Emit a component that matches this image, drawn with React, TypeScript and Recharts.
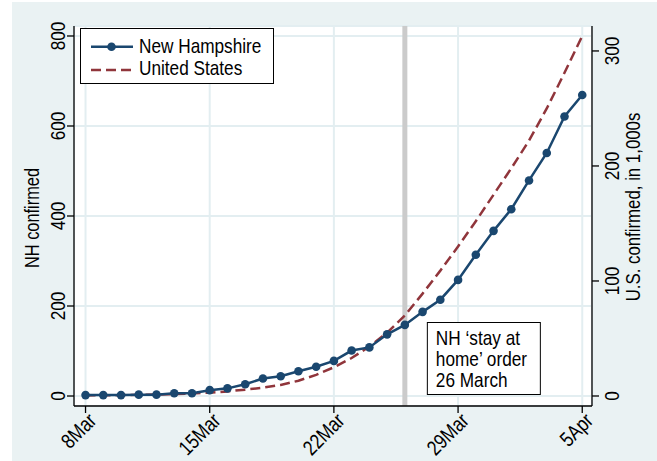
import {
  CartesianGrid,
  Legend,
  Line,
  LineChart,
  ReferenceLine,
  XAxis,
  YAxis,
} from "recharts";

// Arial-metric font squeezed horizontally to mimic a narrow face
const FONT = '"Liberation Sans", Arimo, Arial, sans-serif';
const SQUEEZE = 0.82;
const NAVY = "#1A476F";
const MAROON = "#90353B";

const dates = [
  "8Mar", "9Mar", "10Mar", "11Mar", "12Mar", "13Mar", "14Mar", "15Mar",
  "16Mar", "17Mar", "18Mar", "19Mar", "20Mar", "21Mar", "22Mar", "23Mar",
  "24Mar", "25Mar", "26Mar", "27Mar", "28Mar", "29Mar", "30Mar", "31Mar",
  "1Apr", "2Apr", "3Apr", "4Apr", "5Apr",
];
// NH confirmed cases
const nhCases = [
  2, 2, 2, 3, 3, 6, 6, 13, 17, 26, 39, 44, 55, 65, 78, 101, 108, 137, 158,
  187, 214, 258, 314, 367, 415, 479, 540, 621, 669,
];
// U.S. confirmed, in 1,000s
const usCases = [
  0.5, 0.6, 0.8, 1.0, 1.3, 1.7, 2.2, 2.9, 4.0, 5.5, 7.2, 9.6, 13.3, 18.3, 25,
  33, 43, 55, 70, 89, 109, 130, 152, 175, 198, 222, 250, 281, 313,
];
const xTicks = [0, 7, 14, 21, 28];
const leftTicks = [0, 200, 400, 600, 800];
const rightTicks = [0, 100, 200, 300];
const orderDay = 18;
const orderText = ["NH \u2018stay at", "home\u2019 order", "26 March"];

const rows = dates.map((d, i) => ({ day: i, date: d, nh: nhCases[i], us: usCases[i] }));

function NText({ x, y, angle = 0, anchor = "start", size = 21, children }: any) {
  return (
    <text
      transform={`translate(${x} ${y}) rotate(${angle}) scale(${SQUEEZE} 1)`}
      textAnchor={anchor}
      fontFamily={FONT}
      fontSize={size}
      fill="#000"
    >
      {children}
    </text>
  );
}

function XTick({ x, y, payload }: any) {
  return (
    <NText x={x + 12} y={y + 9} angle={-45} anchor="end">
      {dates[payload.value]}
    </NText>
  );
}

function LeftTick({ x, y, payload }: any) {
  return (
    <NText x={x - 2} y={y} angle={-90} anchor="middle">
      {payload.value}
    </NText>
  );
}

function RightTick({ x, y, payload }: any) {
  return (
    <NText x={x + 20} y={y} angle={-90} anchor="middle">
      {payload.value}
    </NText>
  );
}

function LegendBox({ payload }: any) {
  const items = payload || [];
  return (
    <svg width={194} height={56} style={{ display: "block" }}>
      <rect x={0.5} y={0.5} width={193} height={55} fill="#fff" stroke="#000" />
      {items.map((it: any, i: number) => {
        const cy = 18.7 + i * 23.3;
        const dashed = it.dataKey === "us";
        return (
          <g key={it.value}>
            <line x1={11} x2={53} y1={cy} y2={cy} stroke={it.color} strokeWidth={2.5}
              strokeDasharray={dashed ? "10 5" : undefined} />
            {!dashed && <circle cx={31.5} cy={cy} r={4.3} fill={it.color} />}
            <NText x={59} y={24.5 + i * 22}>{it.value}</NText>
          </g>
        );
      })}
    </svg>
  );
}

function OrderNote({ viewBox }: any) {
  const bx = viewBox.x + 22;
  const by = viewBox.y + 296;
  return (
    <g>
      <rect x={bx + 0.5} y={by + 0.5} width={113} height={72} fill="#fff" stroke="#000" />
      {orderText.map((t, i) => (
        <NText key={t} x={bx + 9} y={by + 23 + i * 21}>{t}</NText>
      ))}
    </g>
  );
}

export default function App() {
  return (
    <div style={{ position: "absolute", left: 0, top: 0, width: 657, height: 461, background: "#fff" }}>
      <div style={{ position: "absolute", left: 12, top: 2, right: 0, bottom: 0, background: "#EAF2F3" }} />
      <div style={{ position: "absolute", left: 0, top: 0 }}>
        <LineChart width={657} height={461} data={rows} margin={{ top: 26, right: 0, bottom: 0, left: 0 }}>
          <CartesianGrid yAxisId="left" fill="#fff" fillOpacity={1} stroke="#E3EEF1" strokeWidth={2} />
          <XAxis dataKey="day" type="number" domain={[-0.65, 28.55]} ticks={xTicks}
            allowDataOverflow height={55} tickSize={7} tickMargin={0}
            stroke="#000" strokeWidth={1.3} tick={<XTick />} interval={0} />
          <YAxis yAxisId="left" domain={[-22.2, 822.2]} ticks={leftTicks} allowDataOverflow
            width={74} tickSize={7} tickMargin={0} stroke="#000" strokeWidth={1.3}
            tick={<LeftTick />} interval={0}
            label={() => (
              <NText x={39} y={218} angle={-90} anchor="middle" size={20}>NH confirmed</NText>
            )} />
          <YAxis yAxisId="right" orientation="right" domain={[-8.7, 321.7]} ticks={rightTicks}
            allowDataOverflow width={65} tickSize={7} tickMargin={0} stroke="#000" strokeWidth={1.3}
            tick={<RightTick />} interval={0}
            label={() => (
              <NText x={640} y={207} angle={-90} anchor="middle" size={20.5}>U.S. confirmed, in 1,000s</NText>
            )} />
          <ReferenceLine yAxisId="left" x={orderDay} stroke="#CBCBCB" strokeWidth={5}
            label={(p: any) => <OrderNote {...p} />} />
          <Line yAxisId="right" dataKey="us" name="United States" type="linear" stroke={MAROON}
            strokeWidth={2.5} strokeDasharray="10 5" dot={false} isAnimationActive={false} />
          <Line yAxisId="left" dataKey="nh" name="New Hampshire" type="linear" stroke={NAVY}
            strokeWidth={2.5} dot={{ r: 4.3, fill: NAVY, stroke: NAVY, strokeWidth: 0 }}
            isAnimationActive={false} />
          <Legend layout="horizontal" verticalAlign="middle" align="center"
            wrapperStyle={{ left: 80, top: 28, width: 194, height: 56 }}
            itemSorter={(it: any) => (it.dataKey === "nh" ? 0 : 1)}
            content={<LegendBox />} />
        </LineChart>
      </div>
    </div>
  );
}
